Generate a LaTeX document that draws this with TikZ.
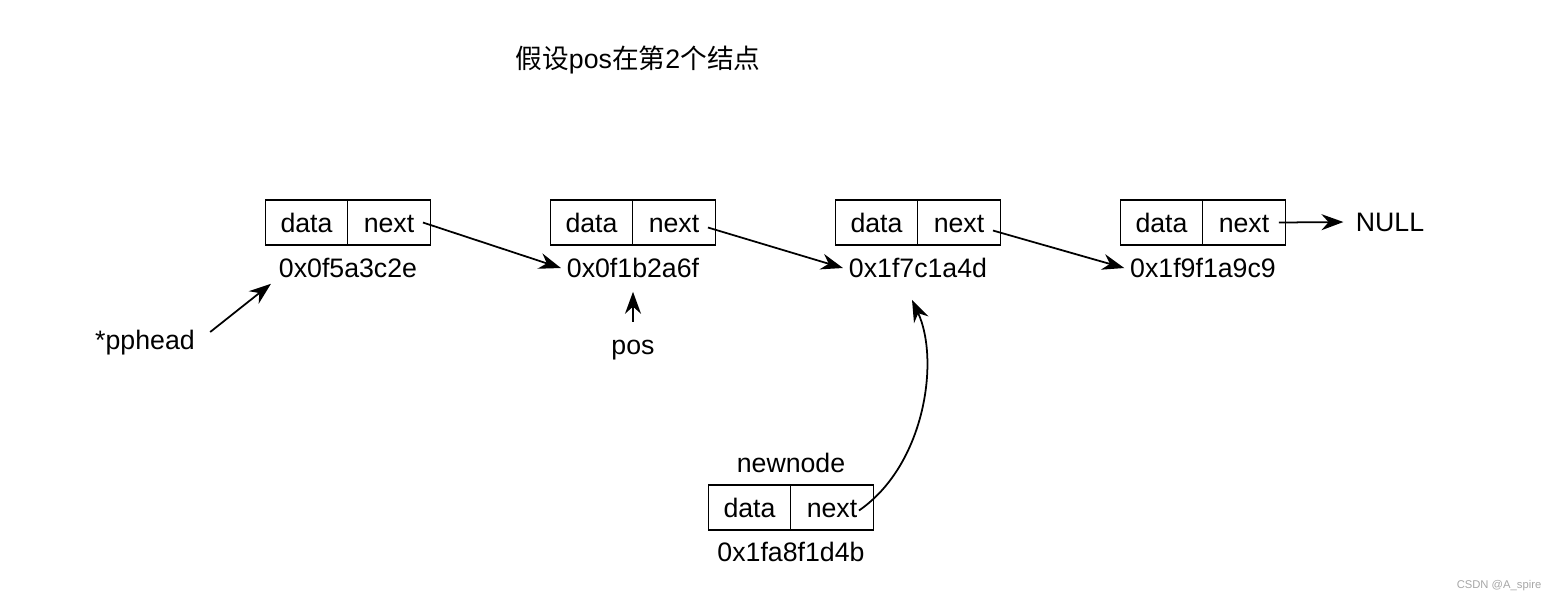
\documentclass[tikz,border=0pt]{standalone}
\usepackage{fontspec}
\setmainfont{Liberation Sans}
\newfontfamily\cjk{Noto Sans CJK SC}
\usetikzlibrary{arrows.meta}

\begin{document}
\begin{tikzpicture}[
    font=\fontsize{7.6}{9}\selectfont,
    cell/.style={rectangle,draw,minimum width=0.825cm,minimum height=0.45cm,inner sep=0pt,text height=1.55ex,text depth=0.45ex},
    link/.style={-{Stealth[length=2.2mm,width=1.6mm]},line width=0.5pt},
    addr/.style={inner sep=1.5pt}
]
    \useasboundingbox (0,0) rectangle (15.59,-6.02);

    % Title
    \node (title) at (6.38,-0.60) {{\cjk 假设}pos{\cjk 在第}2{\cjk 个结点}};

    % List nodes
    \node[cell] (d1) at (3.065,-2.225) {data};
    \node[cell] (n1) at (3.89,-2.225) {next};
    \node[addr] (a1) at (3.48,-2.68) {0x0f5a3c2e};

    \node[cell] (d2) at (5.915,-2.225) {data};
    \node[cell] (n2) at (6.74,-2.225) {next};
    \node[addr] (a2) at (6.33,-2.68) {0x0f1b2a6f};

    \node[cell] (d3) at (8.765,-2.225) {data};
    \node[cell] (n3) at (9.59,-2.225) {next};
    \node[addr] (a3) at (9.18,-2.68) {0x1f7c1a4d};

    \node[cell] (d4) at (11.615,-2.225) {data};
    \node[cell] (n4) at (12.44,-2.225) {next};
    \node[addr] (a4) at (12.03,-2.68) {0x1f9f1a9c9};

    \node (null) at (13.9,-2.22) {NULL};

    % Links
    \draw[link] ([xshift=-0.8mm]n1.east) -- (a2.west);
    \draw[link] ([xshift=-0.8mm,yshift=-0.5mm]n2.east) -- (a3.west);
    \draw[link] ([xshift=-0.8mm,yshift=-0.8mm]n3.east) -- (a4.west);
    \draw[link] ([xshift=-0.7mm]n4.east) -- (null.west);

    % Pointers
    \node (pphead) at (1.45,-3.43) {*pphead};
    \draw[link] ([xshift=0.3mm,yshift=1.1mm]pphead.east) -- ([xshift=-0.2mm]a1.south west);
    \node (pos) at (6.33,-3.50) {pos};
    \draw[link] ([yshift=0.6mm]pos.north) -- ([yshift=-0.8mm]a2.south);

    % New node
    \node (newlabel) at (7.91,-4.63) {newnode};
    \node[cell] (d5) at (7.495,-5.075) {data};
    \node[cell] (n5) at (8.32,-5.075) {next};
    \node[addr] (a5) at (7.91,-5.52) {0x1fa8f1d4b};
    \draw[link] ([xshift=-1.5mm,yshift=-0.3mm]n5.east) .. controls (9.25,-4.65) and (9.4,-3.6) .. ([xshift=-0.6mm,yshift=-1.6mm]a3.south);

    % Watermark
    \node[text=gray!70,font=\fontsize{3.2}{4}\selectfont] (mark) at (14.99,-5.86) {CSDN @A\_spire};
\end{tikzpicture}
\end{document}
